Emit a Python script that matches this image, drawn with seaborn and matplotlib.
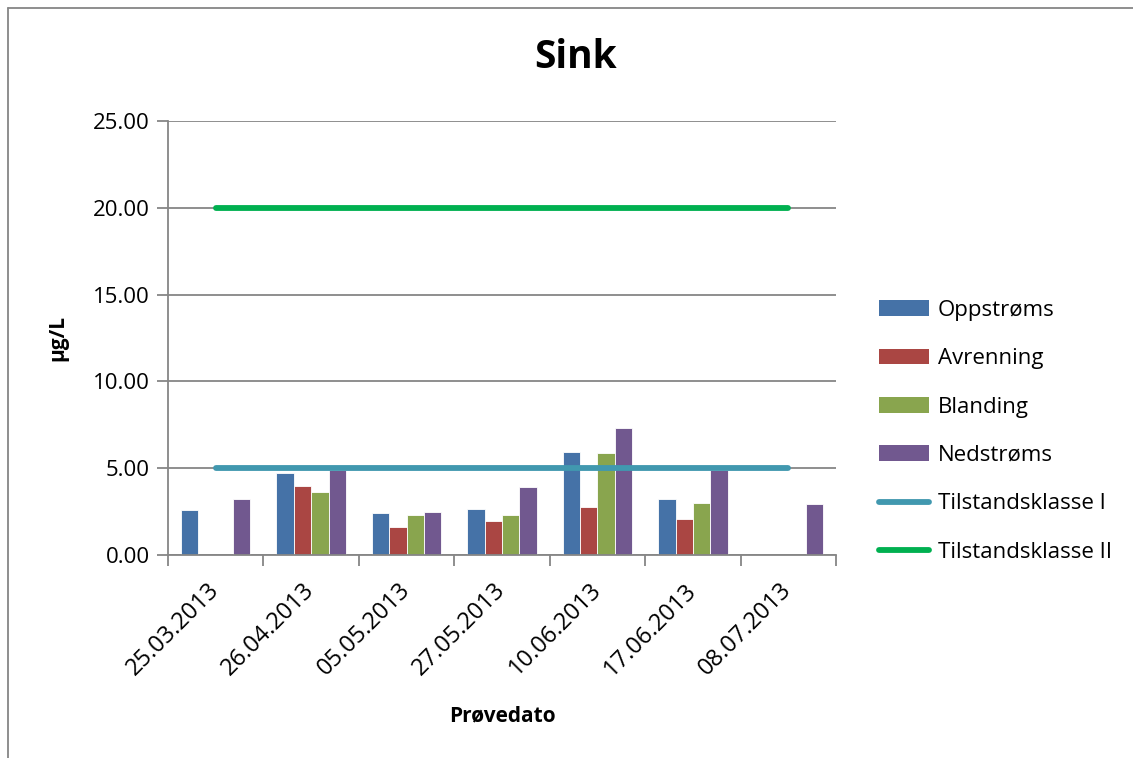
import numpy as np
import pandas as pd
import matplotlib
matplotlib.use("Agg")
import matplotlib.pyplot as plt
from matplotlib.lines import Line2D
import seaborn as sns

# Sample dates and measured zinc concentrations (µg/L) per sampling point
dates = ["25.03.2013", "26.04.2013", "05.05.2013", "27.05.2013",
         "10.06.2013", "17.06.2013", "08.07.2013"]
oppstroms = [2.6, 4.7, 2.4, 2.65, 5.95, 3.25, np.nan]
avrenning = [np.nan, 4.0, 1.6, 1.95, 2.75, 2.1, np.nan]
blanding = [np.nan, 3.65, 2.3, 2.3, 5.85, 3.0, np.nan]
nedstroms = [3.25, 4.9, 2.45, 3.9, 7.3, 4.9, 2.95]

series_names = ["Oppstrøms", "Avrenning", "Blanding", "Nedstrøms"]
series_values = [oppstroms, avrenning, blanding, nedstroms]
series_colors = ["#4572A7", "#AA4643", "#89A54E", "#71588F"]

# Environmental quality class limits
limit_names = ["Tilstandsklasse I", "Tilstandsklasse II"]
limit_values = [5.0, 20.0]
limit_colors = ["#4198AF", "#00B050"]

y_ticks = [0, 5, 10, 15, 20, 25]

rows = []
for name, vals in zip(series_names, series_values):
    for d, v in zip(dates, vals):
        rows.append({"Dato": d, "Serie": name, "Verdi": v})
df = pd.DataFrame(rows)

sns.set_theme(style="white")
plt.rcParams["font.family"] = ["Open Sans", "DejaVu Sans"]
plt.rcParams["text.color"] = "black"

grey = "#868686"
fig = plt.figure(figsize=(11.33, 7.58), dpi=100)
ax = fig.add_axes([0.1483, 0.2678, 0.5896, 0.5726])

sns.barplot(data=df, x="Dato", y="Verdi", hue="Serie", order=dates,
            hue_order=series_names, palette=series_colors, width=0.727,
            saturation=1, edgecolor="#ffffff", linewidth=0.6,
            errorbar=None, ax=ax, legend=False, zorder=2)

positions = np.arange(len(dates))
for name, val, col in zip(limit_names, limit_values, limit_colors):
    sns.lineplot(x=positions, y=[val] * len(dates), color=col, lw=4.2,
                 solid_capstyle="round", ax=ax, zorder=3)

ax.set_xlim(-0.5, len(dates) - 0.5)
ax.set_ylim(0, 25)
ax.set_yticks(y_ticks)
ax.set_yticklabels([f"{t:.2f}" for t in y_ticks], fontsize=16, color="black")
ax.yaxis.grid(True, color=grey, lw=1.3, zorder=0)
ax.set_axisbelow(True)

ax.set_xticks(positions)
ax.set_xticklabels(dates, rotation=45, ha="right", va="center",
                   rotation_mode="anchor", fontsize=17, color="black")
ax.set_xticks(np.arange(len(dates) + 1) - 0.5, minor=True)
ax.tick_params(axis="x", which="major", length=0, pad=23)
ax.tick_params(axis="x", which="minor", length=8, width=1.3, color=grey,
               direction="out", bottom=True)
ax.tick_params(axis="y", length=8, width=1.3, color=grey, direction="out",
               left=True, pad=5)

for side in ["top", "right"]:
    ax.spines[side].set_visible(False)
for side in ["left", "bottom"]:
    ax.spines[side].set_color(grey)
    ax.spines[side].set_linewidth(1.3)

ax.set_xlabel("Prøvedato", fontsize=15, fontweight="bold", labelpad=18,
              color="black")
ax.set_ylabel("µg/L", fontsize=15, fontweight="bold", labelpad=18,
              color="black")

# Chart title, centred over the whole chart area
fig.text(0.508, 1 - 68 / 758, "Sink", fontsize=28, fontweight="bold",
         ha="center", va="baseline", color="black")

# Legend: bar series as patches, limit lines with rounded ends
handles = [plt.Rectangle((0, 0), 1, 1, facecolor=c, edgecolor="none")
           for c in series_colors]
handles += [Line2D([0], [0], color=c, lw=4.2, solid_capstyle="round")
            for c in limit_colors]
fig.legend(handles, series_names + limit_names, loc="upper left",
           bbox_to_anchor=(0.768, 0.616), frameon=False, fontsize=16,
           handlelength=2.25, handleheight=0.7, handletextpad=0.4,
           labelspacing=1.23, borderaxespad=0)

# Chart area border
fig.add_artist(Line2D([0.0071, 0.0071], [0, 0.9894], transform=fig.transFigure,
                      color=grey, lw=1.3))
fig.add_artist(Line2D([0.0071, 1], [0.9894, 0.9894], transform=fig.transFigure,
                      color=grey, lw=1.3))

fig.savefig("out.png", dpi=100)
